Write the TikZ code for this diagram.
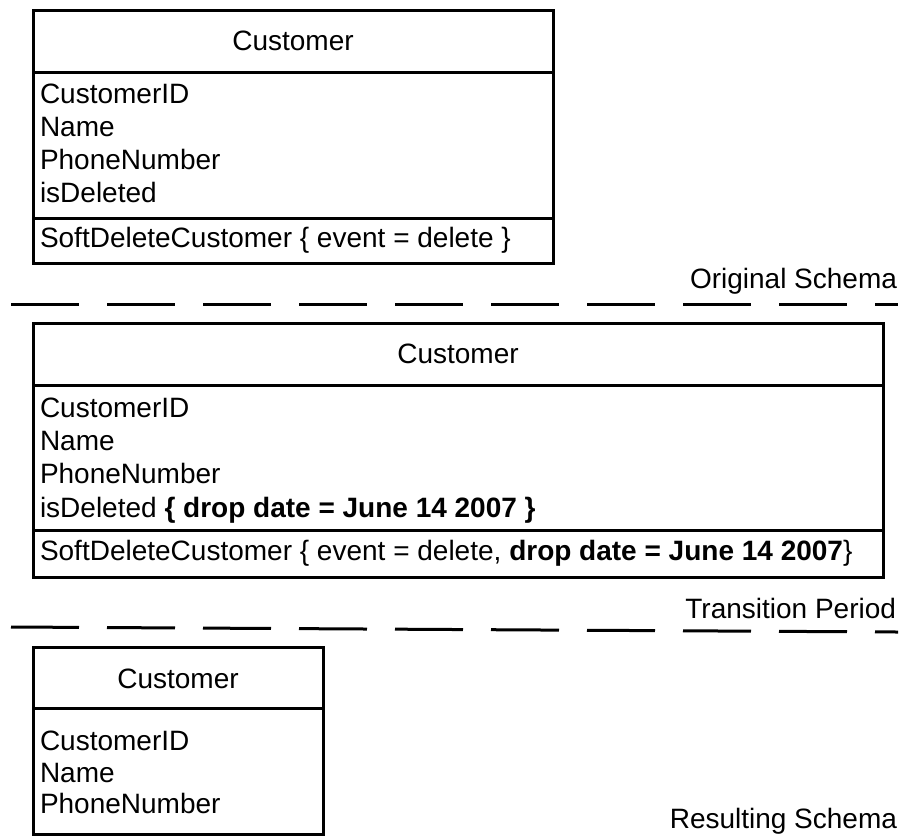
\documentclass[tikz,border=0pt]{standalone}
\usepackage{fontspec}
\setmainfont{Liberation Sans}
\begin{document}
\begin{tikzpicture}[x=1pt,y=-1pt,
  every node/.style={inner sep=0pt,outer sep=0pt,font=\fontsize{28}{33}\selectfont},
  umlbox/.style={draw=black,line width=3pt,anchor=north west,fill=none},
  divider/.style={line width=3pt},
  txt/.style={anchor=base west},
  ttl/.style={anchor=base},
  lbl/.style={anchor=base east},
  sep/.style={line width=3pt,dash pattern=on 68pt off 28pt}]
\useasboundingbox (0,0) rectangle (909,839);
% Box 1
\node[umlbox,minimum width=520pt,minimum height=253pt] (b1) at (33,10) {};
\draw[divider] (33,72) -- (553,72);
\draw[divider] (33,218) -- (553,218);
\node[ttl] (b1t) at (293,50) {Customer};
\node[txt] (b1a1) at (40,103) {CustomerID};
\node[txt] (b1a2) at (40,136) {Name};
\node[txt] (b1a3) at (40,169) {PhoneNumber};
\node[txt] (b1a4) at (40,202) {isDeleted};
\node[txt] (b1m) at (40,247) {SoftDeleteCustomer \{ event = delete \}};
% separator 1
\node[lbl] (l1) at (897,288) {Original Schema};
\coordinate (s1a) at (11,304);
\coordinate (s1b) at (898,304);
\draw[sep] (s1a) -- (s1b);
% Box 2
\node[umlbox,minimum width=850pt,minimum height=254pt] (b2) at (33,323) {};
\draw[divider] (33,385) -- (883,385);
\draw[divider] (33,530) -- (883,530);
\node[ttl] (b2t) at (458,363) {Customer};
\node[txt] (b2a1) at (40,417) {CustomerID};
\node[txt] (b2a2) at (40,450) {Name};
\node[txt] (b2a3) at (40,483) {PhoneNumber};
\node[txt] (b2a4) at (40,517) {isDeleted \textbf{\{ drop date = June 14 2007 \}}};
\node[txt] (b2m) at (40,560) {SoftDeleteCustomer \{ event = delete, \textbf{drop date = June 14 2007}\}};
% separator 2
\node[lbl] (l2) at (896,618) {Transition Period};
\coordinate (s2a) at (11,627);
\coordinate (s2b) at (898,632);
\draw[sep] (s2a) -- (s2b);
% Box 3
\node[umlbox,minimum width=290pt,minimum height=187pt] (b3) at (33,647) {};
\draw[divider] (33,708) -- (323,708);
\node[ttl] (b3t) at (178,688) {Customer};
\node[txt] (b3a1) at (40,750) {CustomerID};
\node[txt] (b3a2) at (40,782) {Name};
\node[txt] (b3a3) at (40,813) {PhoneNumber};
\node[lbl] (l3) at (897,828) {Resulting Schema};
\end{tikzpicture}
\end{document}
